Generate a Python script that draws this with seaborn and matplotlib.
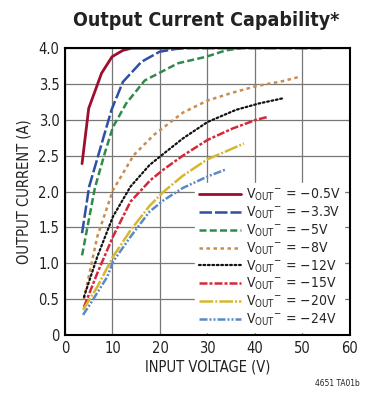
import matplotlib
matplotlib.use("Agg")
import matplotlib.pyplot as plt
import seaborn as sns
import pandas as pd

# data
v_05 = [3.6, 5.0, 7.7, 9.9, 12.2, 14.0, 22.0]
i_05 = [2.39, 3.16, 3.65, 3.88, 3.97, 4.0, 4.0]

v_33 = [3.6, 5.1, 9.8, 12.2, 16.1, 19.9, 23.4, 26.0, 54.0]
i_33 = [1.42, 2.07, 3.14, 3.53, 3.81, 3.95, 3.99, 4.0, 4.0]

v_5 = [3.6, 6.3, 8.4, 10.1, 12.9, 16.8, 23.8, 29.7, 33.9, 37.0]
i_5 = [1.11, 2.05, 2.54, 2.90, 3.23, 3.55, 3.79, 3.88, 3.97, 4.0]

v_8 = [4.0, 6.8, 10.1, 14.5, 18.7, 24.8, 30.0, 35.3, 40.2, 45.8, 49.3]
i_8 = [0.50, 1.37, 2.02, 2.51, 2.79, 3.10, 3.27, 3.38, 3.47, 3.54, 3.60]

v_12 = [4.0, 6.8, 10.1, 13.8, 17.8, 20.8, 24.8, 30.0, 36.0, 40.9, 45.8]
i_12 = [0.53, 1.09, 1.65, 2.07, 2.37, 2.53, 2.74, 2.97, 3.14, 3.23, 3.30]

v_15 = [4.0, 6.8, 10.1, 13.8, 18.0, 20.8, 24.8, 30.0, 35.3, 40.2, 42.6]
i_15 = [0.39, 0.86, 1.37, 1.86, 2.16, 2.31, 2.50, 2.72, 2.88, 3.00, 3.04]

v_20 = [3.8, 6.8, 10.1, 13.8, 17.8, 20.8, 24.8, 30.0, 37.7]
i_20 = [0.35, 0.67, 1.09, 1.46, 1.80, 2.00, 2.22, 2.45, 2.67]

v_24 = [3.8, 5.4, 8.9, 10.1, 13.8, 17.8, 20.8, 24.8, 30.0, 33.9]
i_24 = [0.28, 0.44, 0.81, 1.02, 1.37, 1.72, 1.88, 2.05, 2.21, 2.31]

vout_labels = ["\u22120.5V", "\u22123.3V", "\u22125V", "\u22128V",
               "\u221212V", "\u221215V", "\u221220V", "\u221224V"]
x_ticks = [0, 10, 20, 30, 40, 50, 60]
y_ticks = [0, 0.5, 1.0, 1.5, 2.0, 2.5, 3.0, 3.5, 4.0]
y_tick_labels = ["0", "0.5", "1.0", "1.5", "2.0", "2.5", "3.0", "3.5", "4.0"]

series = [(v_05, i_05), (v_33, i_33), (v_5, i_5), (v_8, i_8),
          (v_12, i_12), (v_15, i_15), (v_20, i_20), (v_24, i_24)]
colors = ["#9e0c2e", "#2f4fa3", "#2e8b4a", "#c98c4f",
          "#111111", "#d6283a", "#d6b730", "#5a8ac6"]
dashes = [None, (5, 1.2), (2.8, 1.3), (1.4, 1.4),
          (0.8, 1.2), (3.2, 0.8, 1.2, 0.8), (5.5, 0.8, 0.8, 0.8),
          (3.2, 0.8, 0.8, 0.8, 0.8, 0.8)]
widths = [2.0, 1.8, 1.8, 1.8, 1.6, 1.8, 1.8, 1.8]

sns.set_style("white")
plt.rcParams["font.family"] = ["DejaVu Sans"]
plt.rcParams["font.stretch"] = "condensed"
plt.rcParams["mathtext.fontset"] = "custom"
plt.rcParams["mathtext.rm"] = "DejaVu Sans:stretch=condensed"

fig = plt.figure(figsize=(3.69, 3.95), dpi=100)
ax = fig.add_axes([0.176, 0.152, 0.7725, 0.726])

for (v, i), lab, c, d, w in zip(series, vout_labels, colors, dashes, widths):
    df = pd.DataFrame({"v": v, "i": i})
    label = r"V$_{\mathregular{OUT}}{}^{\mathregular{-}}$ = " + lab
    sns.lineplot(data=df, x="v", y="i", ax=ax, color=c, lw=w,
                 label=label, legend=False)
    ln = ax.get_lines()[-1]
    if d is not None:
        ln.set_dashes(d)
    if c == "#111111":
        ln.set_dash_capstyle("round")

ax.set_xlim(0, 60)
ax.set_ylim(0, 4.0)
ax.set_xticks(x_ticks)
ax.set_yticks(y_ticks)
ax.set_yticklabels(y_tick_labels)
ax.tick_params(length=0, labelsize=10.5, pad=4, colors="#222222")
ax.grid(True, color="#777777", lw=0.9)
ax.set_axisbelow(True)
for s in ax.spines.values():
    s.set_color("black")
    s.set_linewidth(1.5)

ax.set_xlabel("INPUT VOLTAGE (V)", fontsize=10.5, labelpad=3, color="#222222")
ax.set_ylabel("OUTPUT CURRENT (A)", fontsize=10.5, labelpad=5, color="#222222")
fig.text(0.558, 0.948, "Output Current Capability*", ha="center", va="center",
         fontsize=14, fontweight="bold", color="#222222")
fig.text(0.975, 0.03, "4651 TA01b", ha="right", va="center", fontsize=6,
         color="#222222")

leg = ax.legend(loc="lower right", bbox_to_anchor=(0.99, 0.0), frameon=True,
                fontsize=10, handlelength=3.0, handletextpad=0.35,
                labelspacing=0.1, borderpad=0.3, borderaxespad=0.2)
leg.get_frame().set_edgecolor("white")
leg.get_frame().set_facecolor("white")
leg.get_frame().set_alpha(1.0)

fig.savefig("out.png", dpi=100)
